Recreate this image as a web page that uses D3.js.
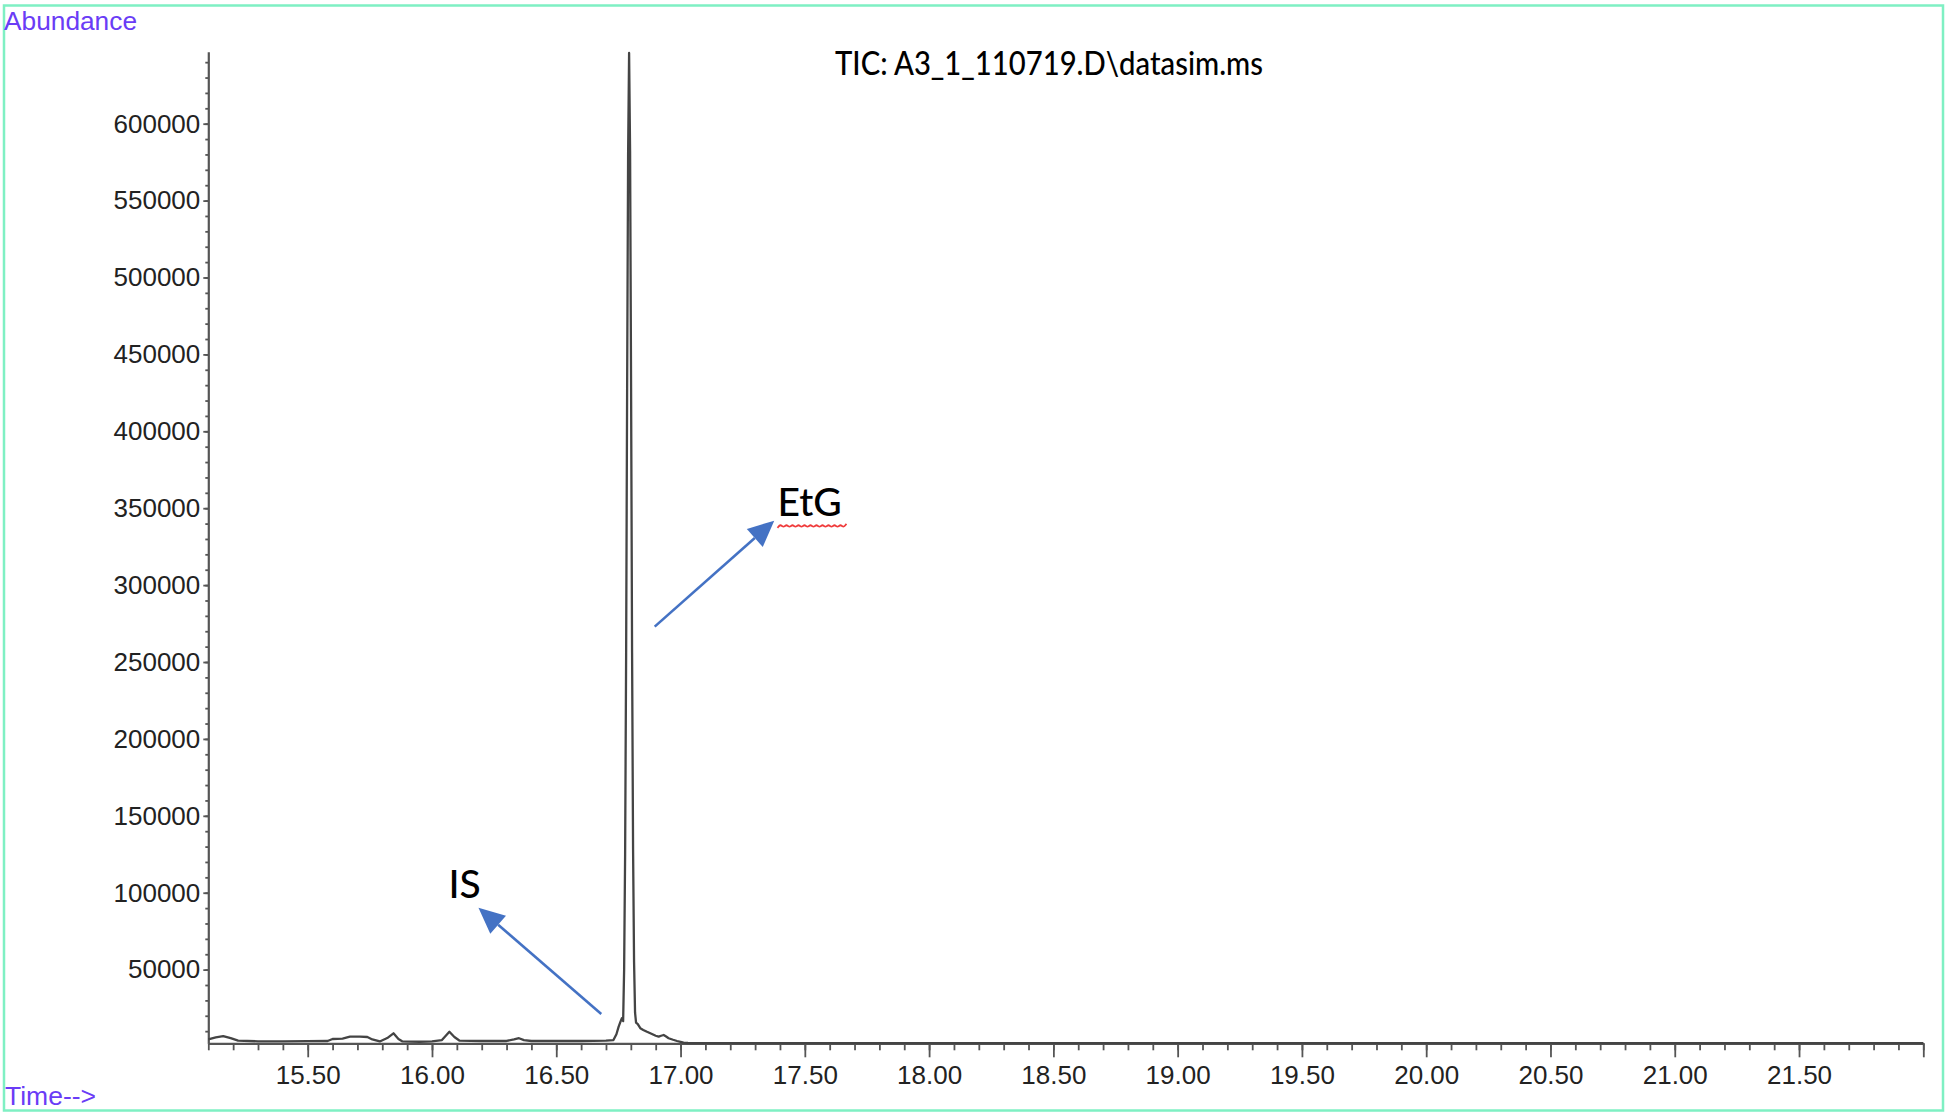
<!DOCTYPE html>
<html>
<head>
<meta charset="utf-8">
<script src="https://cdn.jsdelivr.net/npm/d3@7"></script>
<style>
  body { margin:0; background:#fff; }
  svg { display:block; }
</style>
</head>
<body>
<script>
// retention time (min) and abundance
var times = [15.10, 15.13, 15.16, 15.19, 15.22, 15.30, 15.40, 15.50, 15.58, 15.60,
             15.64, 15.67, 15.71, 15.74, 15.76, 15.79, 15.82, 15.845, 15.865, 15.88,
             15.95, 16.00, 16.04, 16.07, 16.09, 16.11, 16.20, 16.30, 16.33, 16.35,
             16.37, 16.40, 16.50, 16.60, 16.70, 16.730, 16.742, 16.751, 16.758, 16.764,
             16.769, 16.773, 16.777, 16.781, 16.785, 16.789, 16.793, 16.797, 16.801, 16.805,
             16.809, 16.813, 16.817, 16.821, 16.828, 16.838, 16.850, 16.865, 16.885, 16.900,
             16.912, 16.922, 16.932, 16.942, 16.952, 16.970, 16.986, 17.000, 17.012, 17.030,
             17.10, 17.50, 18.00, 19.00, 20.00, 21.00, 22.00];
var abundance = [4700, 5900, 6800, 5500, 3800, 3400, 3300, 3500, 3600, 4900,
                 5200, 6400, 6500, 6200, 4600, 3300, 5500, 8600, 4900, 3400,
                 3100, 3400, 4200, 9600, 6200, 3900, 3600, 3600, 4600, 5400,
                 4200, 3600, 3600, 3600, 3800, 4200, 8000, 12900, 16000, 18400,
                 16500, 50000, 125000, 253000, 425000, 580000, 646000, 582000, 428000, 256000,
                 128000, 55000, 22000, 15500, 14500, 11900, 10800, 9600, 8100, 7000,
                 6400, 7000, 7500, 6500, 5400, 4400, 3600, 3000, 2500, 2300,
                 2200, 2200, 2200, 2200, 2200, 2200, 2200];

var xMajorTicks = [15.5, 16.0, 16.5, 17.0, 17.5, 18.0, 18.5, 19.0, 19.5, 20.0, 20.5, 21.0, 21.5, 22.0];
var yMajorTicks = [50000, 100000, 150000, 200000, 250000, 300000, 350000, 400000,
                   450000, 500000, 550000, 600000];

var titleText = 'TIC: A3_1_110719.D\\datasim.ms';

// peak annotations (label + arrow), in data units
var labelNames = ['IS', 'EtG'];
var labelTimes = [16.066, 17.390];
var labelAbund = [96400, 345000];
var arrowFrom = [[16.681, 21150], [16.896, 273000]];
var arrowTo = [[16.187, 90270], [17.377, 341900]];

var screen = { width:1946, height:1115 };
var plot = { left:208.3, right:1923.3, top:51.7, bottom:1043.3 };

var svg = d3.select('body')
            .append('svg')
            .attr('width', screen.width)
            .attr('height', screen.height);

// mint frame round the whole window
svg.append('rect')
   .attr('x', 4).attr('y', 5.5)
   .attr('width', 1939).attr('height', 1105)
   .attr('fill', 'none')
   .attr('stroke', '#7ff0c3')
   .attr('stroke-width', 2.5);

var xScale = d3.scaleLinear()
               .domain([15.10, 22.00])
               .range([plot.left, plot.right]);
var yScale = d3.scaleLinear()
               .domain([2100, 646800])
               .range([plot.bottom, plot.top]);

var tickFont = '"Liberation Sans", Arial, sans-serif';

// x axis: minor every 0.1, major every 0.5
var xMinor = d3.range(151, 221).map(function(i){ return i / 10; });
svg.append('g')
   .attr('transform', 'translate(0,' + plot.bottom + ')')
   .call(d3.axisBottom(xScale).tickValues(xMinor).tickSize(7).tickFormat(''))
   .call(function(g){ g.select('.domain').remove(); });
var xAxis = svg.append('g')
               .attr('transform', 'translate(0,' + plot.bottom + ')')
               .call(d3.axisBottom(xScale)
                       .tickValues(xMajorTicks)
                       .tickSize(14)
                       .tickSizeOuter(0)
                       .tickPadding(8.5)
                       .tickFormat(function(d){ return d >= 22 ? '' : d3.format('.2f')(d); }));

// y axis: minor every 10000
var yMinor = d3.range(1, 65).map(function(i){ return i * 10000; });
svg.append('g')
   .attr('transform', 'translate(' + plot.left + ',0)')
   .call(d3.axisLeft(yScale).tickValues(yMinor).tickSize(3).tickFormat(''))
   .call(function(g){ g.select('.domain').remove(); });
var yAxis = svg.append('g')
               .attr('transform', 'translate(' + plot.left + ',0)')
               .call(d3.axisLeft(yScale)
                       .tickValues(yMajorTicks)
                       .tickSize(5)
                       .tickSizeOuter(0)
                       .tickPadding(3)
                       .tickFormat(d3.format('d')));

svg.selectAll('.tick line').attr('stroke', '#555').attr('stroke-width', 1.8);
svg.selectAll('.domain').attr('stroke', '#555').attr('stroke-width', 2.2);
svg.selectAll('.tick text')
   .attr('font-family', tickFont)
   .attr('font-size', 26)
   .attr('fill', '#222');

// the trace
var line = d3.line()
             .x(function(d, i){ return xScale(times[i]); })
             .y(function(d){ return yScale(d); });
svg.append('path')
   .datum(abundance)
   .attr('d', line)
   .attr('fill', 'none')
   .attr('stroke', '#444')
   .attr('stroke-width', 2.3)
   .attr('stroke-linejoin', 'round');

// corner captions
svg.append('text')
   .attr('x', 4).attr('y', 30)
   .attr('font-family', tickFont)
   .attr('font-size', 26.5)
   .attr('textLength', 133)
   .attr('lengthAdjust', 'spacingAndGlyphs')
   .attr('fill', '#6a3cf6')
   .text('Abundance');
svg.append('text')
   .attr('x', 5).attr('y', 1105)
   .attr('font-family', tickFont)
   .attr('font-size', 26.5)
   .attr('textLength', 91)
   .attr('lengthAdjust', 'spacingAndGlyphs')
   .attr('fill', '#6a3cf6')
   .text('Time-->');

svg.append('text')
   .attr('x', 835).attr('y', 75)
   .attr('font-family', 'Lato, "Open Sans", sans-serif')
   .attr('font-size', 32)
   .attr('font-weight', 500)
   .attr('textLength', 428)
   .attr('lengthAdjust', 'spacingAndGlyphs')
   .attr('fill', '#000')
   .text(titleText);

// arrows
var arrowColor = '#4472c4';
arrowFrom.forEach(function(p, i){
  var x0 = xScale(p[0]), y0 = yScale(p[1]);
  var x1 = xScale(arrowTo[i][0]), y1 = yScale(arrowTo[i][1]);
  var len = Math.sqrt((x1 - x0) * (x1 - x0) + (y1 - y0) * (y1 - y0));
  var ux = (x1 - x0) / len, uy = (y1 - y0) / len;
  var head = 26, half = 12;
  var bx = x1 - ux * head, by = y1 - uy * head;
  svg.append('line')
     .attr('x1', x0).attr('y1', y0)
     .attr('x2', bx).attr('y2', by)
     .attr('stroke', arrowColor)
     .attr('stroke-width', 2.6);
  svg.append('polygon')
     .attr('points', [[x1, y1], [bx - uy * half, by + ux * half], [bx + uy * half, by - ux * half]]
                       .map(function(q){ return q.join(','); }).join(' '))
     .attr('fill', arrowColor);
});

// peak labels
var labels = svg.selectAll('.peakLabel')
                .data(labelNames)
                .enter()
                .append('text')
                .classed('peakLabel', true)
                .attr('x', function(d, i){ return xScale(labelTimes[i]); })
                .attr('y', function(d, i){ return yScale(labelAbund[i]); })
                .attr('font-family', 'Lato, "Open Sans", sans-serif')
                .attr('font-size', 39)
                .attr('font-weight', 500)
                .attr('fill', '#000')
                .text(function(d){ return d; });

// red spell-check squiggle under EtG
var etgX = xScale(labelTimes[1]);
var etgY = yScale(labelAbund[1]) + 10;
var squiggle = d3.range(0, 24).map(function(i){
  return [etgX + i * 3, etgY + (i % 2 ? -2 : 2)];
});
svg.append('path')
   .attr('d', d3.line().curve(d3.curveBasis)(squiggle))
   .attr('fill', 'none')
   .attr('stroke', '#f03a3a')
   .attr('stroke-width', 1.8);
</script>
</body>
</html>
